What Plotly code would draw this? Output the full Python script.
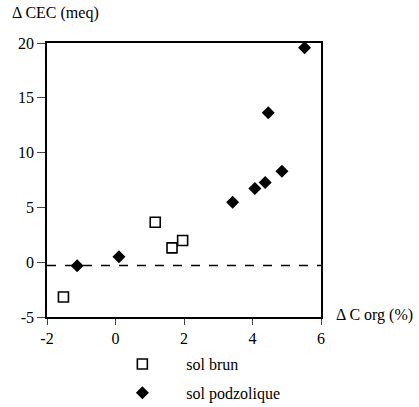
import plotly.graph_objects as go

brun_x = [-1.52, 1.16, 1.65, 1.96]
brun_y = [-3.18, 3.65, 1.31, 1.98]
podz_x = [-1.12, 0.10, 3.42, 4.07, 4.37, 4.86, 4.46, 5.52]
podz_y = [-0.33, 0.49, 5.47, 6.72, 7.27, 8.30, 13.63, 19.57]
baseline = -0.3
x_ticks = [-2, 0, 2, 4, 6]
x_labels = ["-2", "0", "2", "4", "6"]
y_ticks = [-5, 0, 5, 10, 15, 20]
y_labels = ["-5", "0", "5", "10", "15", "20"]

FONT = "Liberation Serif"
FS = 16
pad = "\u00a0" * 6

fig = go.Figure()
fig.add_trace(go.Scatter(
    x=brun_x, y=brun_y, mode="markers", name=pad + "sol brun", legendgroup="a",
    marker=dict(symbol="square-open", size=10, color="black", line=dict(width=1.6, color="black")),
))
fig.add_trace(go.Scatter(
    x=podz_x, y=podz_y, mode="markers", name=pad + "sol podzolique", legendgroup="b",
    marker=dict(symbol="diamond", size=10, color="black"),
))
fig.add_shape(type="line", xref="x", yref="y", x0=x_ticks[0], x1=x_ticks[-1],
              y0=baseline, y1=baseline, line=dict(color="black", width=1.5, dash="dash"))

fig.update_layout(
    width=419, height=407,
    margin=dict(l=47, r=98, t=43, b=90, autoexpand=False),
    paper_bgcolor="white", plot_bgcolor="white",
    font=dict(family=FONT, size=FS, color="black"),
    showlegend=True,
    legend=dict(x=0.275, y=-0.11, xanchor="left", yanchor="top",
                font=dict(family=FONT, size=FS), tracegroupgap=5,
                bgcolor="rgba(0,0,0,0)"),
    xaxis=dict(range=[x_ticks[0], x_ticks[-1]], tickvals=x_ticks, ticktext=x_labels,
               ticks="outside", ticklen=6, tickwidth=1, showgrid=False, zeroline=False,
               showline=True, linewidth=1.5, linecolor="black", mirror=True,
               tickfont=dict(family=FONT, size=FS)),
    yaxis=dict(range=[y_ticks[0], y_ticks[-1]], tickvals=y_ticks, ticktext=y_labels,
               ticks="outside", ticklen=8, tickwidth=1, showgrid=False, zeroline=False,
               showline=True, linewidth=1.5, linecolor="black", mirror=True,
               tickfont=dict(family=FONT, size=FS)),
    annotations=[
        dict(text="\u0394 CEC (meq)", xref="paper", yref="paper", x=-0.135, y=1.0, yshift=19,
             xanchor="left", yanchor="bottom", showarrow=False, font=dict(family=FONT, size=FS)),
        dict(text="\u0394 C org (%)", xref="paper", yref="paper", x=1.0, xshift=13, y=0.0,
             yshift=2, xanchor="left", yanchor="middle", showarrow=False,
             font=dict(family=FONT, size=FS)),
    ],
)
fig.write_html("out.html")
